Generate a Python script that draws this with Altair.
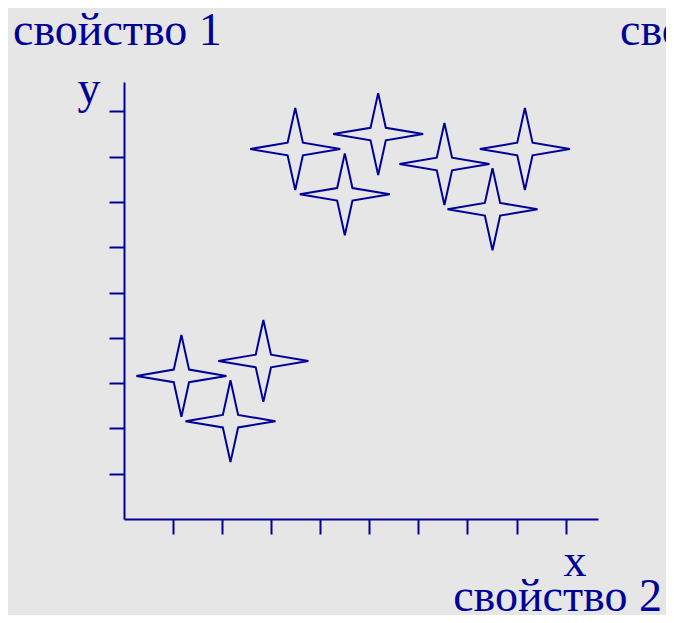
import altair as alt
import pandas as pd

# star positions (data units)
star_x = [1.17, 2.84, 2.17, 3.49, 5.18, 4.50, 6.53, 8.17, 7.51]
star_y = [3.16, 3.49, 2.16, 8.17, 8.50, 7.17, 7.84, 8.17, 6.84]
tick_values = [1, 2, 3, 4, 5, 6, 7, 8, 9]
label_top_left = "свойство 1"
label_top_right = "свойство 3"
label_bottom = "свойство 2"
axis_x_name = "x"
axis_y_name = "y"

BLUE = "#000099"
FONT = "Liberation Serif"
FS = 46

df = pd.DataFrame({"x": star_x, "y": star_y})

star_path = "M-1,0L-0.17,-0.14L0,-0.91L0.17,-0.14L1,0L0.17,0.14L0,0.91L-0.17,0.14Z"

xscale = alt.Scale(domain=[0, 9.66], nice=False, zero=False)
yscale = alt.Scale(domain=[0, 9.65], nice=False, zero=False)

axis_common = dict(
    values=tick_values, labels=False, title=None, grid=False,
    tickSize=15, tickWidth=2, tickColor=BLUE,
    domainColor=BLUE, domainWidth=2,
)

stars = alt.Chart(df).mark_point(
    shape=star_path, size=8100, filled=False, stroke=BLUE, strokeWidth=2, opacity=1
).encode(
    x=alt.X("x:Q", scale=xscale, axis=alt.Axis(orient="bottom", **axis_common)),
    y=alt.Y("y:Q", scale=yscale, axis=alt.Axis(orient="left", **axis_common)),
)


def label(txt, px, py, align):
    return alt.Chart(alt.Data(values=[{"t": txt}])).mark_text(
        font=FONT, fontSize=FS, color=BLUE, align=align, baseline="alphabetic"
    ).encode(text="t:N", x=alt.value(px), y=alt.value(py))


chart = alt.layer(
    stars,
    label(label_top_left, -111, -37, "left"),
    label(label_top_right, 496, -37, "left"),
    label(axis_y_name, -35, 21, "center"),
    label(axis_x_name, 451, 494, "center"),
    label(label_bottom, 538, 529, "right"),
).properties(
    width=474, height=437,
    background="#e6e6e6",
    autosize=alt.AutoSizeParams(type="none"),
    padding={"left": 116, "top": 74, "right": 68, "bottom": 96},
).configure_view(stroke=None)

chart.save("out.html", embed_options={"renderer": "svg", "actions": False})
